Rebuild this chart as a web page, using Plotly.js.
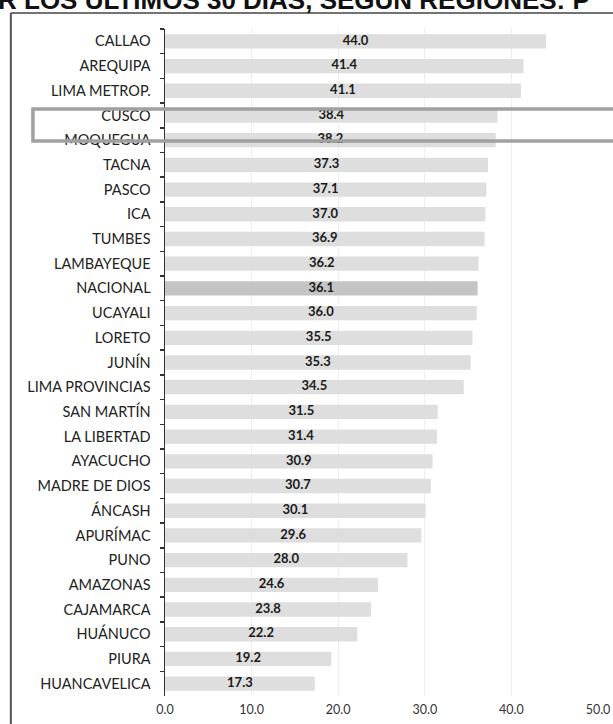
<!DOCTYPE html>
<html>
<head>
<meta charset="utf-8">
<script src="https://cdn.plot.ly/plotly-3.0.1.min.js"></script>
<style>html,body{margin:0;padding:0;background:#fff;}#chart{width:613px;height:724px;}</style>
</head>
<body>
<div id="chart"></div>
<script>
const regions = ["CALLAO","AREQUIPA","LIMA METROP.","CUSCO","MOQUEGUA","TACNA","PASCO","ICA","TUMBES","LAMBAYEQUE","NACIONAL","UCAYALI","LORETO","JUNÍN","LIMA PROVINCIAS","SAN MARTÍN","LA LIBERTAD","AYACUCHO","MADRE DE DIOS","ÁNCASH","APURÍMAC","PUNO","AMAZONAS","CAJAMARCA","HUÁNUCO","PIURA","HUANCAVELICA"];
const values = [44.0,41.4,41.1,38.4,38.2,37.3,37.1,37.0,36.9,36.2,36.1,36.0,35.5,35.3,34.5,31.5,31.4,30.9,30.7,30.1,29.6,28.0,24.6,23.8,22.2,19.2,17.3];
const xTicks = [0,10,20,30,40,50];
const titleText = "R LOS ÚLTIMOS 30 DÍAS, SEGÚN REGIONES: P";

const barColors = regions.map(r => r === "NACIONAL" ? "#c4c4c4" : "#dedede");

const bars = {
  type: "bar", orientation: "h",
  x: values, y: regions,
  marker: {color: barColors, line: {width: 0}},
  hoverinfo: "skip", showlegend: false
};
const labels = {
  type: "scatter", mode: "text",
  x: values.map(v => v / 2), y: regions,
  text: values.map(v => v.toFixed(1)),
  textposition: "middle center",
  textfont: {family: "Lato", size: 13, color: "#1a1a1a", weight: "bold"},
  hoverinfo: "skip", showlegend: false, cliponaxis: false
};

const layout = {
  width: 613, height: 724,
  margin: {l: 165, r: 15, t: 29, b: 28, autoexpand: false},
  paper_bgcolor: "#fff", plot_bgcolor: "#fff",
  bargap: 0.42,
  showlegend: false,
  xaxis: {
    automargin: false,
    range: [0, 50], tickvals: xTicks, tickformat: ".1f",
    showgrid: true, gridcolor: "#eeeeee", gridwidth: 1,
    zeroline: false, showline: false, ticks: "",
    ticklabelstandoff: 4,
    tickfont: {family: "Lato", size: 12.5, color: "#333"}
  },
  yaxis: {
    automargin: false,
    type: "category", autorange: false, range: [regions.length - 0.5, -0.5],
    showline: true, linecolor: "#333", linewidth: 1.5,
    ticks: "outside", ticklen: 4, tickcolor: "#333", tickwidth: 1.5,
    tickson: "boundaries", showgrid: false, zeroline: false,
    ticklabelstandoff: 10,
    tickfont: {family: "Lato", size: 14.5, color: "#222"}
  },
  shapes: [
    {type: "rect", xref: "paper", yref: "paper", x0: -0.305, x1: 1.1, y0: 0.832, y1: 0.880,
     line: {color: "#a0a0a0", width: 3.5}, fillcolor: "rgba(0,0,0,0)"},
    {type: "line", xref: "paper", yref: "paper", x0: -0.356, x1: -0.356, y0: -0.06, y1: 1.024,
     line: {color: "#555", width: 2}},
    {type: "line", xref: "paper", yref: "paper", x0: -0.356, x1: 1.1, y0: 1.024, y1: 1.024,
     line: {color: "#444", width: 1.5}}
  ],
  annotations: [
    {text: titleText, xref: "paper", yref: "paper", x: -0.39, y: 1.018, xanchor: "left", yanchor: "bottom",
     showarrow: false, font: {family: "Liberation Sans", size: 26, color: "#111", weight: "bold"}}
  ]
};

Plotly.newPlot("chart", [bars, labels], layout, {staticPlot: true, displayModeBar: false});
</script>
</body>
</html>
